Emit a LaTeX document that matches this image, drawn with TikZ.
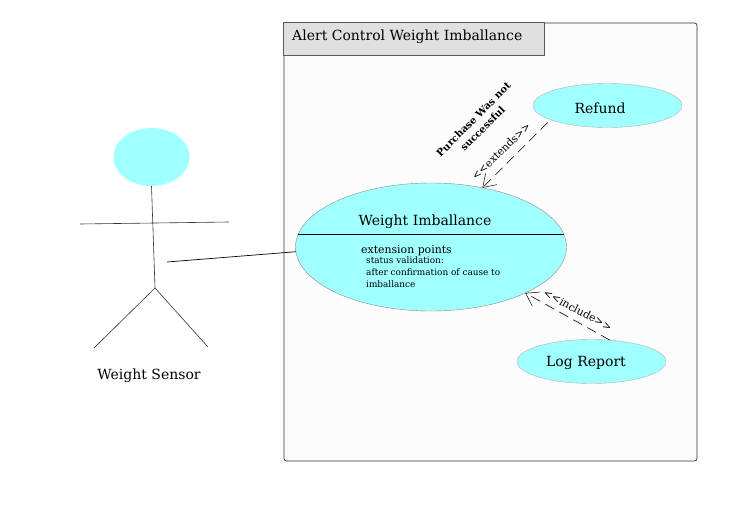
\documentclass[tikz,border=0pt]{standalone}
\usepackage{fontspec}
\setmainfont{DejaVu Serif}
\usetikzlibrary{arrows.meta,shapes.geometric}
\definecolor{usecase}{HTML}{A0FFFF}
\tikzset{
	usecase/.style={ellipse, draw=black!45, fill=usecase, inner sep=0pt, outer sep=0pt},
	smallcase/.style={usecase, draw=black!30, minimum width=149pt, minimum height=44pt},
	stick/.style={draw=black!80, line width=0.6pt},
	dep/.style={dashed, dash pattern=on 10pt off 6pt, line width=0.6pt, -{Straight Barb[length=12pt,width=16pt,line width=0.5pt]}},
	lab/.style={inner sep=0pt, text=black},
	big/.style={font=\fontsize{14}{16}\selectfont},
}

\begin{document}
\begin{tikzpicture}[x=1pt, y=-1pt]

\useasboundingbox (0,0) rectangle (745,525);

% system frame
\draw[fill=black!1, draw=black!80, line width=0.7pt, rounded corners=2.5pt] (284,23) rectangle (697,461);
\node[draw=black!65, fill=black!12, line width=0.7pt, minimum width=261pt, minimum height=33pt, inner sep=0pt, anchor=north west] (title) at (283,22) {};
\node[lab, big, anchor=west] (titletext) at (292,37) {Alert Control Weight Imballance};

% actor
\node[ellipse, fill=usecase, minimum width=76pt, minimum height=58pt, inner sep=0pt, outer sep=0pt] (head) at (151.5,157) {};
\coordinate (hip) at (155,288);
\coordinate (armleft) at (80,224);
\coordinate (armright) at (229,222);
\coordinate (footleft) at (94,348);
\coordinate (footright) at (208,347);
\coordinate (hand) at (167,262);
\draw[stick] (head.south) -- (hip);
\draw[stick] (armleft) -- (armright);
\draw[stick] (hip) -- (footleft);
\draw[stick] (hip) -- (footright);
\node[lab, big] (sensor) at (149,375.5) {Weight Sensor};

% use cases
\node[usecase, minimum width=271pt, minimum height=128pt] (imballance) at (431,247) {};
\node[smallcase] (refund) at (607.5,105.5) {};
\node[smallcase] (logreport) at (591.5,361.5) {};
\node[lab, big] (refundtext) at (600,108) {Refund};
\node[lab, big] (logreporttext) at (586,362.5) {Log Report};

\coordinate (dividerleft) at (298,234.5);
\coordinate (dividerright) at (564,234.5);
\draw[black, line width=0.7pt] (dividerleft) -- (dividerright);
\node[lab, big] (imballancetext) at (425,221.5) {Weight Imballance};
\node[lab, font=\fontsize{10.9}{13}\selectfont, anchor=west] (points) at (361,250.5) {extension points};
\node[lab, font=\fontsize{8.9}{12}\selectfont, anchor=north west, align=left] (pointstext) at (366,257) {status validation:\\after confirmation of cause to\\imballance};

% connectors
\draw[black, line width=0.7pt] (hand) -- (imballance.182.5);
\draw[dep, shorten <=4pt] (refund.194.6) -- (imballance.49.7);
\draw[dep] (logreport.49.3) -- (imballance.-26.3);

\node[lab, rotate=44, font=\fontsize{10.5}{12}\selectfont] (extends) at (501,151) {<{}<extends>{}>};
\node[lab, rotate=-28, font=\fontsize{10.7}{12}\selectfont] (include) at (578,310) {<{}<include>{}>};
\node[lab, rotate=45, font=\bfseries\fontsize{10}{13}\selectfont, align=center] (purchase) at (478,124) {Purchase Was not\\successful};

\end{tikzpicture}
\end{document}
